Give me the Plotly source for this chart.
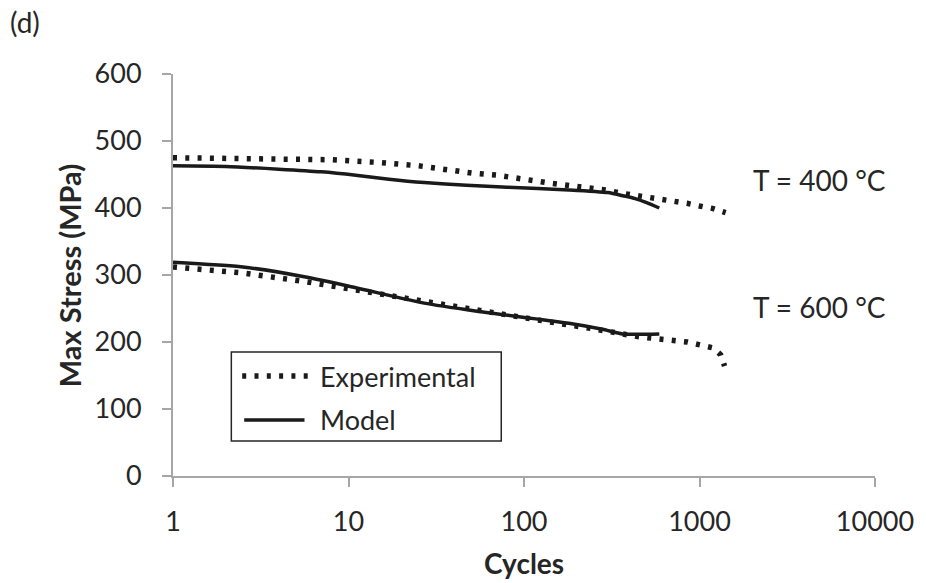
import plotly.graph_objects as go

# ---- data ----
exp400_cycles = [1, 2, 4, 8, 15, 25, 51, 70, 142, 180, 290, 362, 555, 850, 1000, 1200, 1410]
exp400_stress = [475, 474, 473, 472, 468, 463, 452, 449, 437, 434, 427, 422, 415, 407, 403, 399, 393]

model400_cycles = [1, 2, 4, 7, 11, 17, 27, 47, 80, 180, 300, 370, 430, 500, 590]
model400_stress = [463, 462, 458, 454, 449, 443, 438, 434, 431, 427, 423, 418, 414, 408, 400]

exp600_cycles = [1, 2.5, 5.7, 12.4, 27, 63, 183, 233, 445, 850, 1200, 1320, 1340, 1390]
exp600_stress = [312, 303, 290, 275, 260, 245, 225, 221, 208, 200, 191, 181, 176, 164]

model600_cycles = [1, 2.5, 5.7, 11, 27, 54, 180, 280, 365, 590]
model600_stress = [319, 312, 297, 281, 258, 246, 228, 219, 212, 212]

x_tickvals = [1, 10, 100, 1000, 10000]
x_ticktext = ["1", "10", "100", "1000", "10000"]
y_tickvals = [0, 100, 200, 300, 400, 500, 600]

FONT = "Lato"
W, H = 926, 583
L, R, T, B = 173, 43, 74, 107
PW, PH = W - L - R, H - T - B


def px(x):
    return (x - L) / PW


def py(y):
    return (H - B - y) / PH


DOT = "4px,8.3px"

fig = go.Figure()
for cx, cy in [(exp400_cycles, exp400_stress), (exp600_cycles, exp600_stress)]:
    fig.add_trace(go.Scatter(x=cx, y=cy, mode="lines",
                             line=dict(color="#1a1a1a", width=5.5, dash=DOT),
                             showlegend=False, hoverinfo="skip"))
for cx, cy in [(model400_cycles, model400_stress), (model600_cycles, model600_stress)]:
    fig.add_trace(go.Scatter(x=cx, y=cy, mode="lines",
                             line=dict(color="#1a1a1a", width=3.5, shape="spline", smoothing=0.6),
                             showlegend=False, hoverinfo="skip"))

axis_common = dict(showgrid=False, zeroline=False, showline=True, linecolor="#a6a6a6",
                   linewidth=2, ticks="outside", tickcolor="#a6a6a6", tickwidth=2, ticklen=9,
                   tickfont=dict(family=FONT, size=27, color="#262626"))

fig.update_xaxes(type="log", range=[0, 4], tickvals=x_tickvals, ticktext=x_ticktext,
                 ticklabelstandoff=12, **axis_common)
fig.update_yaxes(range=[0, 600], tickvals=y_tickvals, ticklabelstandoff=15, **axis_common)

annotations = [
    dict(text="<b>Max Stress (MPa)</b>", x=px(68), y=py(276), textangle=-90,
         font=dict(family=FONT, size=29, color="#262626")),
    dict(text="<b>Cycles</b>", x=px(528), y=py(563),
         font=dict(family=FONT, size=28, color="#262626")),
    dict(text="T = 400 °C", x=px(758), y=py(180), xanchor="left",
         font=dict(family=FONT, size=28, color="#262626")),
    dict(text="T = 600 °C", x=px(758), y=py(307), xanchor="left",
         font=dict(family=FONT, size=28, color="#262626")),
    dict(text="(d)", x=px(6), y=py(22), xanchor="left",
         font=dict(family=FONT, size=28, color="#262626")),
    dict(text="Experimental", x=px(320), y=py(376), xanchor="left",
         font=dict(family=FONT, size=27, color="#262626")),
    dict(text="Model", x=px(320), y=py(419), xanchor="left",
         font=dict(family=FONT, size=27, color="#262626")),
]
for a in annotations:
    a.update(xref="paper", yref="paper", showarrow=False)
    a.setdefault("xanchor", "center")
    a.setdefault("yanchor", "middle")

shapes = [
    dict(type="rect", x0=px(232), x1=px(505), y0=py(352), y1=py(441),
         line=dict(color="#262626", width=1.5), fillcolor="white"),
    dict(type="line", x0=px(243), x1=px(312), y0=py(376), y1=py(376),
         line=dict(color="#1a1a1a", width=5.5, dash=DOT)),
    dict(type="line", x0=px(245), x1=px(306), y0=py(420), y1=py(420),
         line=dict(color="#1a1a1a", width=3.5)),
]
for s in shapes:
    s.update(xref="paper", yref="paper")

fig.update_layout(width=W, height=H, margin=dict(l=L, r=R, t=T, b=B),
                  paper_bgcolor="white", plot_bgcolor="white",
                  annotations=annotations, shapes=shapes, showlegend=False)

fig.write_html("out.html")
